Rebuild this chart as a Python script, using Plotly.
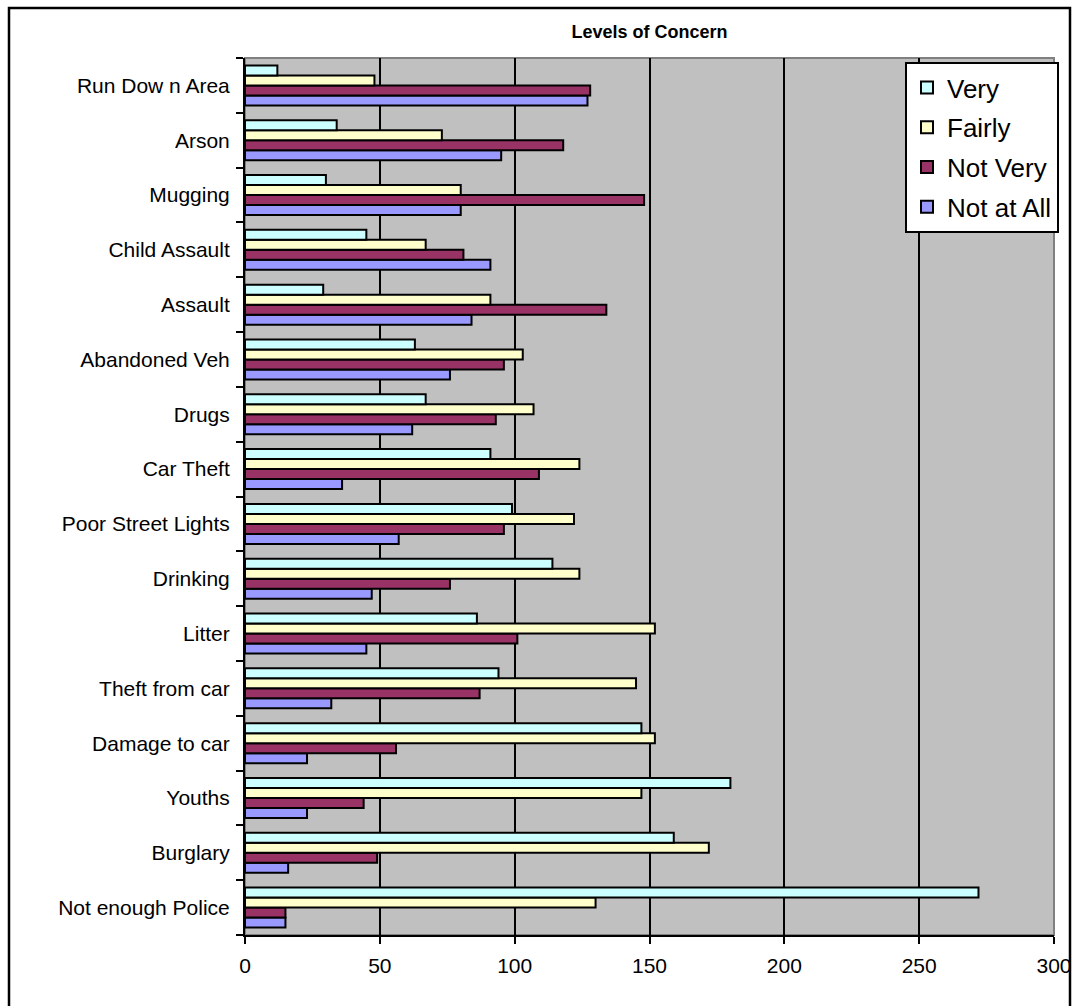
import plotly.graph_objects as go

categories = ["Not enough Police", "Burglary", "Youths", "Damage to car", "Theft from car",
              "Litter", "Drinking", "Poor Street Lights", "Car Theft", "Drugs",
              "Abandoned Veh", "Assault", "Child Assault", "Mugging", "Arson", "Run Dow n Area"]

very = [272, 159, 180, 147, 94, 86, 114, 99, 91, 67, 63, 29, 45, 30, 34, 12]
fairly = [130, 172, 147, 152, 145, 152, 124, 122, 124, 107, 103, 91, 67, 80, 73, 48]
not_very = [15, 49, 44, 56, 87, 101, 76, 96, 109, 93, 96, 134, 81, 148, 118, 128]
not_at_all = [15, 16, 23, 23, 32, 45, 47, 57, 36, 62, 76, 84, 91, 80, 95, 127]

x_ticks = [0, 50, 100, 150, 200, 250, 300]

# (name, values, colour, legend rank)
series = [
    ("Not at All", not_at_all, "#9999FF", 4),
    ("Not Very", not_very, "#993366", 3),
    ("Fairly", fairly, "#FFFFCC", 2),
    ("Very", very, "#CCFFFF", 1),
]

fig = go.Figure()
for name, vals, col, rank in series:
    fig.add_trace(go.Bar(
        y=categories, x=vals, name=name, orientation="h",
        marker=dict(color=col, line=dict(color="black", width=2)),
        legendgroup=name, legendrank=rank,
    ))

W, H = 1075, 1006
L, R, T, B = 245, W - 1054, 58, H - 935
pw, ph = W - L - R, H - T - B

def px_x(p):
    return (p - L) / pw

def px_y(p):
    return (H - B - p) / ph

fig.update_layout(
    width=W, height=H,
    margin=dict(l=L, r=R, t=T, b=B, pad=0, autoexpand=False),
    paper_bgcolor="white",
    plot_bgcolor="#C0C0C0",
    barmode="group",
    bargap=0.27,
    bargroupgap=0,
    font=dict(family="Liberation Sans, Arial, sans-serif", color="black"),
    title=dict(text="<b>Levels of Concern</b>", x=0.5, xref="paper", xanchor="center",
               y=1 - 32 / H, yanchor="middle", font=dict(size=18, color="black")),
    legend=dict(
        x=px_x(905), y=px_y(62), xanchor="left", yanchor="top",
        bgcolor="white", bordercolor="black", borderwidth=2,
        font=dict(size=26, color="black"),
        traceorder="grouped", tracegroupgap=3,
        itemwidth=30,
    ),
    xaxis=dict(
        range=[0, 300], tickvals=x_ticks, ticktext=[str(v) for v in x_ticks],
        showgrid=True, gridcolor="black", gridwidth=2,
        ticks="outside", ticklen=7, tickcolor="black", tickwidth=2,
        showline=True, linecolor="black", linewidth=2, ticklabelstandoff=4,
        ticklabeloverflow="allow",
        tickfont=dict(size=21), zeroline=False, fixedrange=True, automargin=False,
    ),
    yaxis=dict(
        type="category", categoryorder="array", categoryarray=categories,
        tickson="boundaries", ticks="outside", ticklen=7, tickcolor="black", tickwidth=2,
        showline=True, linecolor="black", linewidth=2, ticklabelstandoff=9,
        showgrid=False, tickfont=dict(size=21), fixedrange=True, automargin=False,
    ),
    shapes=[
        dict(type="rect", xref="paper", yref="paper", x0=0, x1=1, y0=0, y1=1,
             line=dict(color="#808080", width=2), layer="below"),
        dict(type="rect", xref="paper", yref="paper",
             x0=px_x(9), x1=px_x(1070), y0=px_y(1040), y1=px_y(8),
             line=dict(color="black", width=2.5), layer="above"),
    ],
)

fig.write_html(
    "out.html",
    config={"displayModeBar": False},
    post_script="document.body.style.margin='0px';document.body.style.overflow='hidden';",
)
